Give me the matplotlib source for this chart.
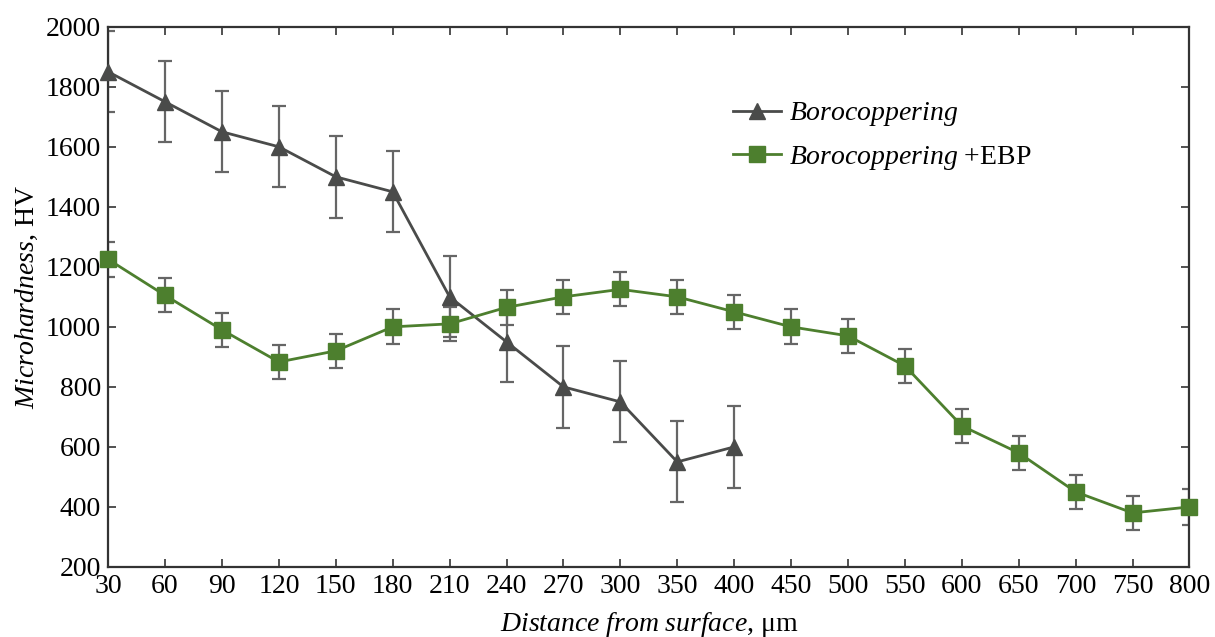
import numpy as np
import matplotlib.pyplot as plt

plt.rcParams['font.family'] = ['Liberation Serif', 'DejaVu Serif']
plt.rcParams['mathtext.fontset'] = 'custom'
plt.rcParams['mathtext.rm'] = 'Liberation Serif'
plt.rcParams['mathtext.it'] = 'Liberation Serif:italic'

# x categories (evenly spaced on the axis)
distance = ['30', '60', '90', '120', '150', '180', '210', '240', '270', '300',
            '350', '400', '450', '500', '550', '600', '650', '700', '750', '800']

# Borocoppering (first 12 points)
boro = [1850, 1750, 1650, 1600, 1500, 1450, 1100, 950, 800, 750, 550, 600]
boro_err = [135, 135, 135, 135, 137, 135, 135, 135, 137, 135, 135, 137]

# Borocoppering + EBP
ebp = [1225, 1105, 990, 883, 920, 1000, 1010, 1065, 1100, 1125,
       1100, 1050, 1000, 970, 870, 670, 580, 450, 380, 400]
ebp_err = [58, 57, 57, 57, 57, 58, 57, 58, 57, 57,
           57, 57, 58, 57, 57, 57, 57, 57, 57, 60]

gray = '#4a4b4a'
green = '#4d7f2e'
errc = '#666666'

fig = plt.figure(figsize=(12.15, 6.37), dpi=100)
ax = fig.add_axes([0.089, 0.110, 0.890, 0.848])

xb = np.arange(len(boro))
xe = np.arange(len(ebp))

ax.errorbar(xb, boro, yerr=boro_err, fmt='none', ecolor=errc, elinewidth=1.6,
            capsize=5, capthick=1.6)
ax.errorbar(xe, ebp, yerr=ebp_err, fmt='none', ecolor=errc, elinewidth=1.6,
            capsize=5, capthick=1.6)
ax.plot(xb, boro, color=gray, lw=2, marker='^', ms=11, mfc=gray, mec=gray,
        clip_on=False, zorder=3, label=r'$\it{Borocoppering}$')
ax.plot(xe, ebp, color=green, lw=2, marker='s', ms=11, mfc=green, mec=green,
        clip_on=False, zorder=3, label=r'$\it{Borocoppering}$ +EBP')

ax.set_xlim(0, len(distance) - 1)
ax.set_ylim(200, 2000)
ax.set_xticks(xe)
ax.set_xticklabels(distance)
ax.set_yticks(np.arange(200, 2001, 200))
ax.tick_params(direction='in', top=True, right=True, length=6, width=1.2,
               labelsize=20, colors='#333333', labelcolor='black', pad=5)
for s in ax.spines.values():
    s.set_linewidth(1.6)
    s.set_color('#333333')

ax.set_xlabel(r'$\it{Distance\ from\ surface}$, μm', fontsize=20, labelpad=8)
ax.set_ylabel(r'$\it{Microhardness}$, HV', fontsize=20, labelpad=4)

ax.legend(loc='upper left', bbox_to_anchor=(0.555, 0.91), frameon=False,
          fontsize=20, handlelength=1.7, handletextpad=0.3, labelspacing=0.55)

plt.savefig('out.png', dpi=100)
